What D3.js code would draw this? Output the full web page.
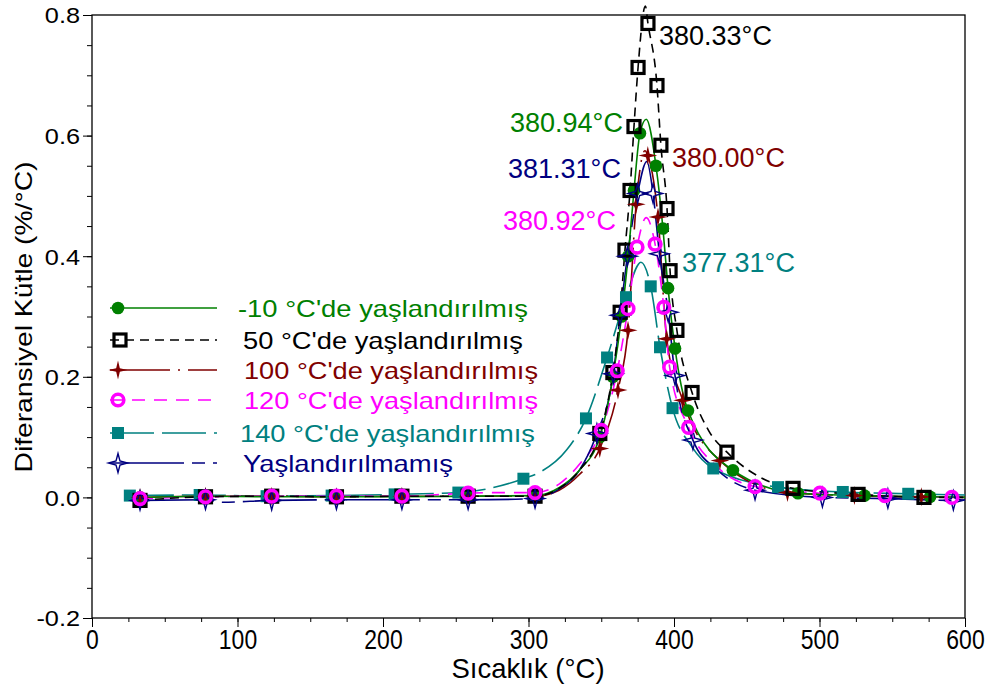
<!DOCTYPE html>
<html><head><meta charset="utf-8">
<script src="https://cdn.jsdelivr.net/npm/d3@7"></script>
<style>
body{margin:0;background:#fff}
text{font-family:"Liberation Sans",Arial,sans-serif}
</style></head>
<body><svg id="c" width="991" height="689"></svg>
<script>
// ---------- data (temperature °C, differential mass %/°C) ----------
const seriesNames = ["-10 °C'de yaşlandırılmış","50 °C'de yaşlandırılmış","100 °C'de yaşlandırılmış","120 °C'de yaşlandırılmış","140 °C'de yaşlandırılmış","Yaşlandırılmamış"];
const peakLabels = ["380.94°C","380.33°C","380.00°C","380.92°C","377.31°C","381.31°C"];
const xTicks = [0,100,200,300,400,500,600];
const yTicks = [-0.2,0,0.2,0.4,0.6,0.8];

const m10Marks = [[33,0.000],[78,0.002],[123.5,0.001],[168,0.001],[213,0.001],[258.5,0.002],[304.5,0.003],[349,0.100],[358,0.200],[364,0.300],[368.5,0.400],[372.5,0.509],[376.6,0.604],[387.6,0.550],[392.4,0.446],[395.9,0.347],[400.7,0.247],[409.6,0.144],[440.5,0.045],[485.2,0.007],[531,0.003],[576,0.001]];
const m10Extra = [[321,0.016],[335,0.045],[380.94,0.627],[600,0.000]];

const a50Marks = [[33,-0.005],[78,0.001],[123.5,0.002],[168,0.001],[213,0.002],[258.5,0.002],[304.5,0.002],[349,0.106],[358,0.207],[363,0.307],[366.3,0.410],[369.8,0.509],[372.5,0.615],[375.3,0.713],[382.1,0.786],[388.3,0.683],[391,0.584],[395.2,0.479],[397.3,0.376],[402,0.277],[412.4,0.174],[436.4,0.075],[481.8,0.015],[526.5,0.005],[571.8,0.000]];
const a50Extra = [[321,0.015],[335,0.045],[380.33,0.815],[424,0.110],[458,0.035],[600,0.000]];

const a100Marks = [[33,0.000],[78,0.002],[123.5,0.002],[168,0.001],[213,0.002],[258.5,0.002],[304.5,0.002],[349,0.081],[361.5,0.178],[368.4,0.277],[374,0.486],[382,0.567],[389,0.465],[395,0.263],[406,0.161],[431.6,0.061],[478,0.008],[524,0.003],[570,0.001]];
const a100Extra = [[321,0.012],[335,0.038],[380,0.575],[600,0.000]];

const a120Marks = [[33,-0.002],[78,0.001],[123.5,0.002],[168,0.002],[213,0.002],[258.5,0.007],[304.5,0.008],[350,0.111],[361,0.210],[368.4,0.313],[374.6,0.415],[387,0.420],[393,0.315],[397,0.216],[410,0.116],[455.7,0.018],[500.3,0.007],[545,0.003],[591,0.000]];
const a120Extra = [[280,0.008],[321,0.022],[335,0.055],[380.92,0.464],[430,0.050],[600,0.000]];

const a140Marks = [[26,0.003],[74,0.004],[120,0.002],[164.7,0.003],[208,0.005],[251.8,0.008],[296.5,0.031],[339.5,0.131],[354,0.232],[367,0.332],[384,0.350],[390.4,0.249],[399,0.148],[427,0.048],[471.5,0.017],[516,0.009],[561,0.006]];
const a140Extra = [[308,0.042],[326,0.078],[377.31,0.390],[412,0.085],[600,0.004]];

const unMarks = [[33,-0.005],[78,-0.004],[123.5,-0.005],[168,-0.004],[213,-0.004],[258.5,-0.004],[304.5,-0.002],[347,0.106],[358.3,0.205],[363,0.302],[368,0.400],[375,0.504],[385.6,0.504],[390,0.404],[396,0.307],[400.7,0.202],[413,0.095],[455.7,0.012],[502,0.000],[547,-0.002],[592,-0.005]];
const unExtra = [[90,-0.008],[321,0.014],[335,0.045],[381.31,0.557],[430,0.045],[600,-0.004]];

// ---------- styles ----------
const styles = [
  {color:"#008000", dash:null, sym:"dot"},
  {color:"#000000", dash:"9,6", sym:"osq"},
  {color:"#800000", dash:"60,8,2,8", sym:"star"},
  {color:"#FF00FF", dash:"13,9", sym:"ring"},
  {color:"#008080", dash:"44,8", sym:"fsq"},
  {color:"#000080", dash:"74,8,13,8", sym:"ostar"}
];
const allMarks = [m10Marks,a50Marks,a100Marks,a120Marks,a140Marks,unMarks];
const allExtra = [m10Extra,a50Extra,a100Extra,a120Extra,a140Extra,unExtra];

const svg = d3.select("#c");
svg.append("rect").attr("width",991).attr("height",689).attr("fill","#fff");
const x = d3.scaleLinear().domain([0,600]).range([92,965]);
const y = d3.scaleLinear().domain([-0.2,0.8]).range([618,15]);

function stretch(sel,f){sel.each(function(){const l=this.getComputedTextLength();this.setAttribute("textLength",l*f);this.setAttribute("lengthAdjust","spacingAndGlyphs");});}
function stretchTo(sel,w){sel.attr("textLength",w).attr("lengthAdjust","spacingAndGlyphs");}

// axes
const gx = svg.append("g").attr("transform","translate(0,618)");
gx.call(d3.axisBottom(x).tickValues(d3.range(0,601,25)).tickSize(4).tickFormat(""));
gx.call(g=>g.select(".domain").remove());
const gx2 = svg.append("g").attr("transform","translate(0,618)");
gx2.call(d3.axisBottom(x).tickValues(xTicks).tickSize(9).tickPadding(3).tickFormat(d3.format("d")));
gx2.select(".domain").remove();
gx2.selectAll("text").attr("font-size",27).attr("fill","#000").style("font-family","Liberation Sans, Arial");
stretch(gx2.selectAll("text"),0.85);

const gy = svg.append("g").attr("transform","translate(92,0)");
gy.call(d3.axisLeft(y).tickValues(d3.range(-0.2,0.801,0.05)).tickSize(5).tickFormat(""));
gy.select(".domain").remove();
const gy2 = svg.append("g").attr("transform","translate(92,0)");
gy2.call(d3.axisLeft(y).tickValues(yTicks).tickSize(9).tickPadding(3).tickFormat(d=>d3.format(".1f")(d).replace("\u2212","-")));
gy2.select(".domain").remove();
gy2.selectAll("text").attr("font-size",22).attr("fill","#000").attr("dy","0.36em").style("font-family","Liberation Sans, Arial");
stretch(gy2.selectAll("text"),1.15);

svg.append("rect").attr("x",92).attr("y",15).attr("width",873).attr("height",603)
  .attr("fill","none").attr("stroke","#000").attr("stroke-width",1.3);

// titles
svg.append("text").attr("x",528).attr("y",678).attr("text-anchor","middle").attr("font-size",27.5).text("Sıcaklık (°C)");
const yt = svg.append("text").attr("transform","translate(32,317) rotate(-90)").attr("text-anchor","middle").attr("font-size",24).text("Diferansiyel Kütle (%/°C)");
stretchTo(yt,311);

// symbols
function star4(r,ri){const p=[];for(let i=0;i<8;i++){const a=-Math.PI/2+i*Math.PI/4;const rr=i%2?ri:r;p.push([rr*Math.cos(a),rr*Math.sin(a)]);}return "M"+p.map(q=>q[0].toFixed(2)+","+q[1].toFixed(2)).join("L")+"Z";}
function drawSym(g,sym,color){
  if(sym==="dot") g.append("circle").attr("r",6.3).attr("fill",color);
  else if(sym==="osq") g.append("rect").attr("x",-6).attr("y",-6).attr("width",12).attr("height",12).attr("fill","none").attr("stroke",color).attr("stroke-width",3.2);
  else if(sym==="fsq") g.append("rect").attr("x",-6).attr("y",-6).attr("width",12).attr("height",12).attr("fill",color);
  else if(sym==="ring") g.append("circle").attr("r",5.8).attr("fill","none").attr("stroke",color).attr("stroke-width",3.6);
  else if(sym==="star") g.append("path").attr("d",star4(9.5,2.6)).attr("fill",color);
  else if(sym==="ostar") g.append("path").attr("d",star4(9.5,2.8)).attr("fill","#fff").attr("fill-opacity",0).attr("stroke",color).attr("stroke-width",1.4);
}

// lines
const line = d3.line().x(d=>x(d[0])).y(d=>y(d[1])).curve(d3.curveMonotoneX);
const lineOrder=[4,2,3,5,0,1];
lineOrder.forEach(i=>{
  const pts = allMarks[i].concat(allExtra[i]).sort((a,b)=>a[0]-b[0]);
  svg.append("path").attr("d",line(pts)).attr("fill","none").attr("stroke",styles[i].color)
    .attr("stroke-width",1.6).attr("stroke-dasharray",styles[i].dash);
});
// markers
const markOrder=[4,0,2,1,5,3];
markOrder.forEach(i=>{
  allMarks[i].forEach(d=>{
    const g=svg.append("g").attr("transform",`translate(${x(d[0])},${y(d[1])})`);
    drawSym(g,styles[i].sym,styles[i].color);
  });
});

// legend
const legY=[308,340,370,400,433,463];
const legTx=[238,243,244,244,240,243];
const legW=[290,280,294,294,295,210];
const legMx=[118,120,118,118,118,118];
seriesNames.forEach((n,i)=>{
  svg.append("line").attr("x1",110).attr("x2",217).attr("y1",legY[i]).attr("y2",legY[i])
    .attr("stroke",styles[i].color).attr("stroke-width",1.6).attr("stroke-dasharray",styles[i].dash);
  const g=svg.append("g").attr("transform",`translate(${legMx[i]},${legY[i]})`);
  drawSym(g,styles[i].sym,styles[i].color);
  const t=svg.append("text").attr("x",legTx[i]).attr("y",legY[i]+8.5).attr("font-size",24).attr("fill",styles[i].color).text(n);
  stretchTo(t,legW[i]);
});

// peak annotations
const annX=[510,659,672,503,682,508];
const annY=[132,45,167,230,272,178];
peakLabels.forEach((p,i)=>{
  svg.append("text").attr("x",annX[i]).attr("y",annY[i]).attr("font-size",27).attr("fill",styles[i].color).text(p);
});
</script></body></html>
